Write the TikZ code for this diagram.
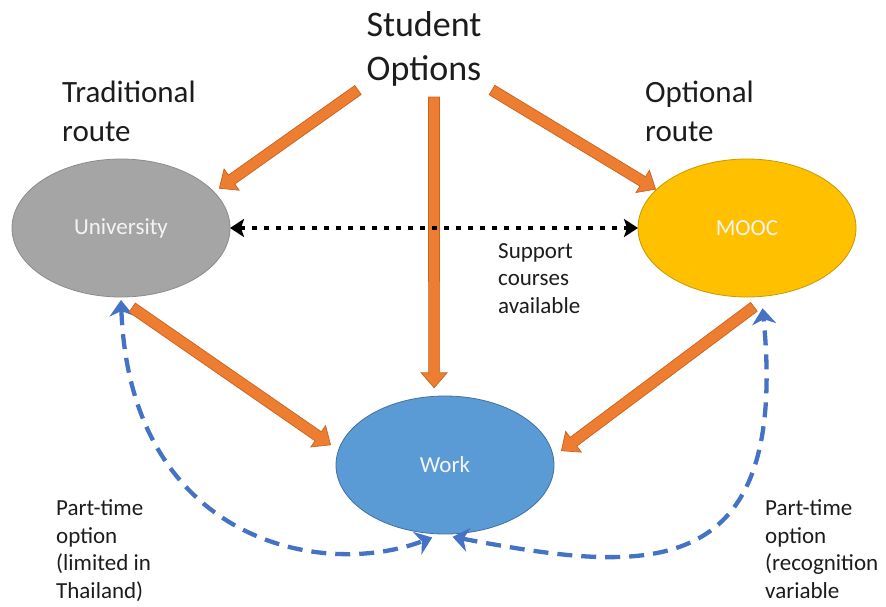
\documentclass[tikz,border=0pt]{standalone}
\usepackage{fontspec}
\setmainfont{Carlito}
\usetikzlibrary{arrows.meta,calc,shapes.geometric}

\definecolor{arrowfill}{HTML}{ED7D31}
\definecolor{arrowedge}{HTML}{C9631E}
\definecolor{unifill}{HTML}{A5A5A5}
\definecolor{uniedge}{HTML}{8C8C8C}
\definecolor{moocfill}{HTML}{FFC000}
\definecolor{moocedge}{HTML}{C49A00}
\definecolor{workfill}{HTML}{5B9BD5}
\definecolor{workedge}{HTML}{41719C}
\definecolor{linkblue}{HTML}{4472C4}
\definecolor{labelwhite}{HTML}{F4F4F4}
\definecolor{textdark}{HTML}{1C1C1C}

\tikzset{
  place/.style={ellipse, minimum width=218pt, minimum height=138pt,
    inner sep=0pt, outer sep=0pt, line width=0.8pt, text=labelwhite,
    font=\fontsize{23}{27.5}\selectfont},
  % multi-line labels are placed by the baseline of their last line
  headline/.style={font=\fontsize{36}{44}\selectfont, align=center,
    inner sep=0pt, anchor=base, text=textdark},
  routelabel/.style={font=\fontsize{31}{39}\selectfont, align=left,
    inner sep=0pt, anchor=base west, text=textdark},
  note/.style={font=\fontsize{23}{27.5}\selectfont, align=left,
    inner sep=0pt, anchor=base west, text=textdark},
  % wide block arrow with a chevron head, drawn as an outlined polygon
  blockarrow/.style={fill=arrowfill, draw=arrowedge, line width=0.7pt,
    line join=miter,
    to path={
      ($(\tikztostart)!5.5pt!90:(\tikztotarget)$)
      -- ($(\tikztotarget)!15pt!(\tikztostart)!5.5pt!-90:(\tikztostart)$)
      -- ($(\tikztotarget)!15pt!(\tikztostart)!13pt!-90:(\tikztostart)$)
      -- (\tikztotarget)
      -- ($(\tikztotarget)!15pt!(\tikztostart)!13pt!90:(\tikztostart)$)
      -- ($(\tikztotarget)!15pt!(\tikztostart)!5.5pt!90:(\tikztostart)$)
      -- ($(\tikztostart)!5.5pt!-90:(\tikztotarget)$)
      -- cycle}},
  dotlink/.style={draw=black, line width=4.5pt,
    dash pattern=on 4.5pt off 7.5pt,
    {Stealth[length=14pt,width=18pt,inset=3pt]}-{Stealth[length=14pt,width=18pt,inset=3pt]}},
  partlink/.style={draw=linkblue, line width=4.3pt,
    dash pattern=on 15pt off 9pt,
    {Stealth[length=16pt,width=24pt,inset=5pt]}-{Stealth[length=16pt,width=24pt,inset=5pt]}},
}

\begin{document}
\begin{tikzpicture}[x=1pt, y=-1pt]
  \useasboundingbox (0,0) rectangle (886,606);

  % the three routes
  \node[place, fill=unifill, draw=uniedge] (univ) at (121,228) {University};
  \node[place, fill=moocfill, draw=moocedge] (mooc) at (747,228) {MOOC};
  \node[place, fill=workfill, draw=workedge] (work) at (445,465) {Work};

  % headings
  \node[headline] (title) at (424,80) {Student\\Options};
  \node[routelabel] (trad) at (62,141) {Traditional\\route};
  \node[routelabel] (opt) at (645,141) {Optional\\route};

  % notes
  \node[note] (support) at (498,313) {Support\\courses\\available};
  \node[note] (ptleft) at (56,598) {Part-time\\option\\(limited in\\Thailand)};
  \node[note] (ptright) at (765,598) {Part-time\\option\\(recognition\\variable};

  % arrow end points
  \coordinate (s1) at (358,90);
  \coordinate (s2) at (434,97);
  \coordinate (s3) at (492,90);
  \coordinate (t1) at ($(univ.22)!-7pt!(univ.center)$);
  \coordinate (t2) at ($(work.98.5)!-8.6pt!(work.center)$);
  \coordinate (t3) at ($(mooc.157.6)!-1pt!(mooc.center)$);
  \coordinate (s4) at ($(univ.-82)!-11pt!(univ.center)$);
  \coordinate (t4) at ($(work.170.2)!-9.6pt!(work.center)$);
  \coordinate (s5) at ($(mooc.-85.7)!-10pt!(mooc.center)$);
  \coordinate (t5) at ($(work.7.3)!-9.5pt!(work.center)$);

  \coordinate (ul) at ($(univ.south)!-3pt!(univ.center)$);
  \coordinate (wl) at ($(work.-100)!-4pt!(work.center)$);
  \coordinate (wr) at ($(work.-84)!-3pt!(work.center)$);
  \coordinate (mr) at ($(mooc.-79)!-12pt!(mooc.center)$);

  % part-time links
  \draw[partlink] (ul) .. controls (130,540) and (320,580) .. (wl);
  \draw[partlink] (wr) .. controls (640,572) and (790,590) .. (mr);

  % choices
  \path[blockarrow] (s1) to (t1);
  \path[blockarrow] (s2) to (t2);
  \path[blockarrow] (s3) to (t3);
  \path[blockarrow] (s4) to (t4);
  \path[blockarrow] (s5) to (t5);

  % support link
  \draw[dotlink] (univ.east) -- (mooc.west);
\end{tikzpicture}
\end{document}
